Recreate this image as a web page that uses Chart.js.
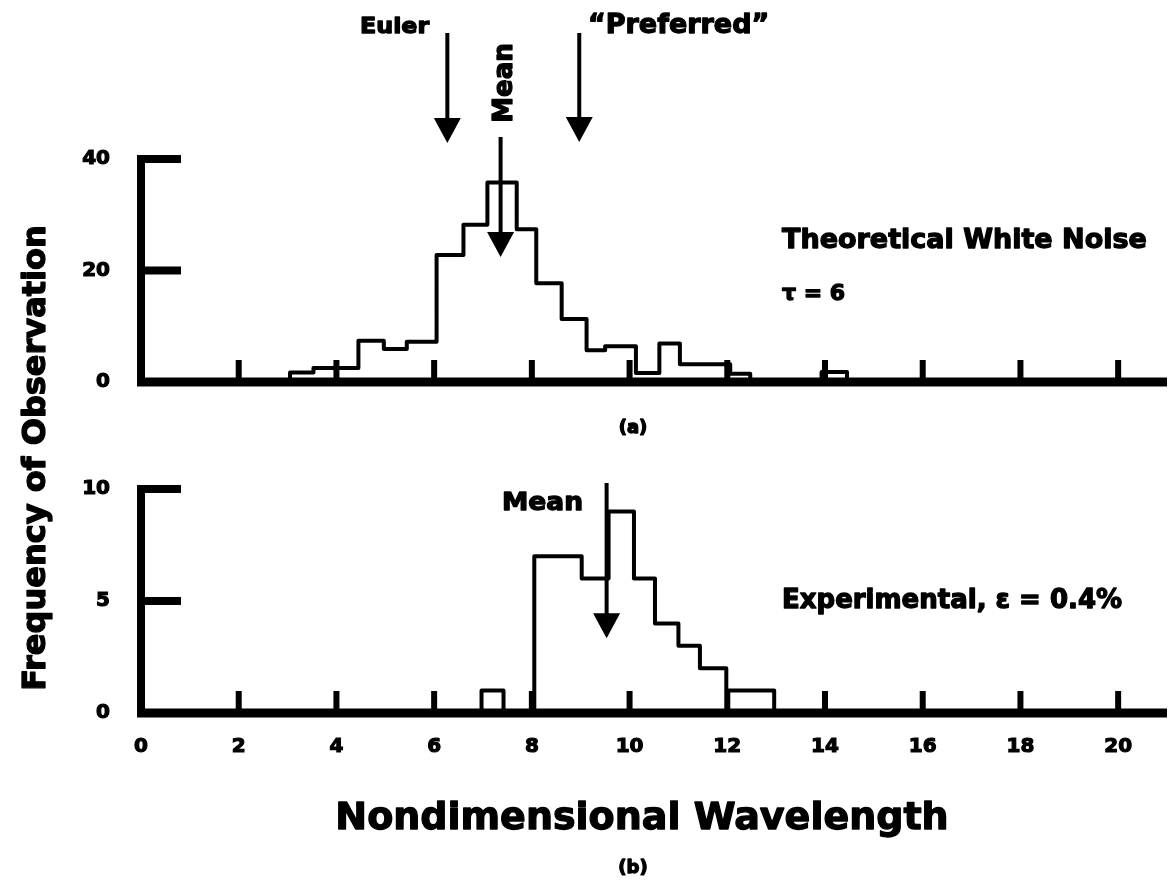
<!DOCTYPE html>
<html>
<head>
<meta charset="utf-8">
<script src="https://cdn.jsdelivr.net/npm/chart.js@4.4.1/dist/chart.umd.min.js"></script>
<style>
  html, body { margin: 0; padding: 0; background: #fff; }
  #wrap { position: relative; width: 1170px; height: 883px; }
  #wrap canvas { position: absolute; left: 0; top: 0; }
</style>
</head>
<body>
<div id="wrap">
  <canvas id="noiseChart" width="1170" height="883"></canvas>
  <canvas id="expChart" width="1170" height="883"></canvas>
</div>
<script>
// (a) theoretical white noise: histogram bin edges and counts
const noiseEdges = [3.05, 3.53, 4.45, 4.97, 5.44, 6.05, 6.6, 7.09, 7.69, 8.09, 8.61, 9.12, 9.5, 10.13, 10.61, 11.03, 12.06, 12.47, 13.93, 14.45];
const noiseCounts = [1.7, 2.5, 7.4, 5.9, 7.2, 22.8, 28.2, 35.8, 27.4, 17.7, 11.3, 5.7, 6.4, 1.6, 6.9, 3.2, 1.5, 0, 1.8];

// (b) experimental, eps = 0.4%
const expEdges = [6.97, 7.42, 8.05, 9.02, 9.57, 10.09, 10.52, 11.0, 11.44, 11.98, 12.96];
const expCounts = [1, 0, 7, 6, 9, 6, 4, 3, 2, 1];

const xTicks = [0, 2, 4, 6, 8, 10, 12, 14, 16, 18, 20];
const noiseYTicks = [0, 20, 40];
const expYTicks = [0, 5, 10];

// wavelengths marked with arrows
const eulerWavelength = 6.27;
const preferredWavelength = 8.97;
const noiseMean = 7.36;
const expMean = 9.53;

Chart.defaults.font.family = '"DejaVu Sans"';
Chart.defaults.font.weight = 'bold';
Chart.defaults.color = '#000';

// histogram outline as a stepped line: up at the first edge, down at the last
function outline(edges, counts) {
    const pts = [{ x: edges[0], y: 0 }];
    counts.forEach((c, i) => pts.push({ x: edges[i], y: c }));
    pts.push({ x: edges[edges.length - 1], y: 0 });
    return pts;
}

// heavy lettering: bold fill plus a thin outline
function drawText(ctx, text, x, y, size, opts = {}) {
    ctx.save();
    ctx.translate(x, y);
    if (opts.rotate) ctx.rotate(opts.rotate);
    ctx.scale(opts.stretch || 1, 1);
    ctx.font = `bold ${size}px "DejaVu Sans"`;
    ctx.textAlign = opts.align || 'left';
    ctx.textBaseline = opts.baseline || 'alphabetic';
    ctx.fillStyle = '#000';
    ctx.strokeStyle = '#000';
    ctx.lineWidth = 1.3;
    ctx.lineJoin = 'round';
    ctx.fillText(text, 0, 0);
    ctx.strokeText(text, 0, 0);
    ctx.restore();
}

function drawArrow(ctx, x, yFrom, yTo) {
    const headW = 27, headH = 25;
    ctx.save();
    ctx.strokeStyle = '#000';
    ctx.fillStyle = '#000';
    ctx.lineWidth = 4;
    ctx.beginPath();
    ctx.moveTo(x, yFrom);
    ctx.lineTo(x, yTo - headH + 2);
    ctx.stroke();
    ctx.beginPath();
    ctx.moveTo(x - headW / 2, yTo - headH);
    ctx.lineTo(x + headW / 2, yTo - headH);
    ctx.lineTo(x, yTo);
    ctx.closePath();
    ctx.fill();
    ctx.restore();
}

// heavy axis frame with inward ticks, drawn over the histogram
const frame = {
    id: 'frame',
    afterDatasetsDraw(chart, args, opts) {
        const ctx = chart.ctx;
        const xs = chart.scales.x, ys = chart.scales.y;
        const x0 = xs.getPixelForValue(0);
        const y0 = ys.getPixelForValue(0);
        const yTop = ys.getPixelForValue(ys.max);
        ctx.save();
        ctx.strokeStyle = '#000';
        ctx.lineCap = 'butt';

        ctx.lineWidth = 6;
        xTicks.slice(1).forEach(v => {
            const px = xs.getPixelForValue(v);
            ctx.beginPath();
            ctx.moveTo(px, y0);
            ctx.lineTo(px, y0 - 22);
            ctx.stroke();
        });

        ctx.lineWidth = 8;
        opts.yTicks.slice(1).forEach(v => {
            const py = ys.getPixelForValue(v);
            ctx.beginPath();
            ctx.moveTo(x0, py);
            ctx.lineTo(x0 + 40, py);
            ctx.stroke();
        });

        ctx.beginPath();
        ctx.moveTo(x0, yTop - 4);
        ctx.lineTo(x0, y0 + 4);
        ctx.stroke();

        ctx.lineWidth = 9;
        ctx.beginPath();
        ctx.moveTo(x0 - 4, y0);
        ctx.lineTo(chart.chartArea.right, y0);
        ctx.stroke();
        ctx.restore();

        if (opts.decorate) opts.decorate(ctx, xs, ys);
    }
};

const tickFont = { size: 20, weight: 'bold' };

function makeChart(id, edges, counts, yMax, yTicks, area, showXLabels, decorate) {
    return new Chart(document.getElementById(id), {
        type: 'line',
        data: {
            datasets: [{
                data: outline(edges, counts),
                stepped: 'before',
                borderColor: '#000',
                borderWidth: 4,
                borderJoinStyle: 'round',
                pointRadius: 0,
                fill: false
            }]
        },
        options: {
            responsive: false,
            animation: false,
            events: [],
            layout: {
                padding: { left: area.left - 100, right: 1170 - area.right, top: area.top, bottom: 883 - area.bottom - 70 }
            },
            scales: {
                x: {
                    type: 'linear',
                    min: 0,
                    max: 21,
                    afterBuildTicks: axis => { axis.ticks = xTicks.map(v => ({ value: v })); },
                    afterFit: axis => { axis.height = 70; },
                    grid: { display: false },
                    border: { display: false },
                    ticks: {
                        display: showXLabels, padding: 14, maxRotation: 0, font: tickFont,
                        textStrokeColor: '#000', textStrokeWidth: 1.2
                    }
                },
                y: {
                    min: 0,
                    max: yMax,
                    afterBuildTicks: axis => { axis.ticks = yTicks.map(v => ({ value: v })); },
                    afterFit: axis => { axis.width = 100; },
                    grid: { display: false },
                    border: { display: false },
                    ticks: {
                        padding: 23, font: tickFont,
                        textStrokeColor: '#000', textStrokeWidth: 1.2
                    }
                }
            },
            plugins: {
                legend: { display: false },
                tooltip: { enabled: false },
                frame: { yTicks, decorate }
            }
        },
        plugins: [frame]
    });
}

makeChart('noiseChart', noiseEdges, noiseCounts, 40, noiseYTicks,
    { left: 141, right: 1167, top: 159, bottom: 382 }, false,
    (ctx, xs, ys) => {
        drawArrow(ctx, xs.getPixelForValue(eulerWavelength), 33, 143);
        drawArrow(ctx, xs.getPixelForValue(preferredWavelength), 33, 142);
        drawArrow(ctx, xs.getPixelForValue(noiseMean), 137, ys.getPixelForValue(22.4));
        drawText(ctx, 'Euler', 360, 33, 22, { stretch: 1.08 });
        drawText(ctx, '\u201CPreferred\u201D', 588, 33, 27);
        drawText(ctx, 'Mean', xs.getPixelForValue(noiseMean) + 5, 83, 26, { rotate: -Math.PI / 2, align: 'center', baseline: 'middle' });
        drawText(ctx, 'Theoretical White Noise', 782, 248, 27);
        drawText(ctx, '\u03C4 = 6', 782, 300, 22);
        drawText(ctx, '(a)', 633, 428, 18, { align: 'center', baseline: 'middle' });
    });

makeChart('expChart', expEdges, expCounts, 10, expYTicks,
    { left: 141, right: 1167, top: 489, bottom: 713 }, true,
    (ctx, xs, ys) => {
        drawArrow(ctx, xs.getPixelForValue(expMean), 483, ys.getPixelForValue(3.34));
        drawText(ctx, 'Mean', 502, 503, 25, { baseline: 'middle', stretch: 1.06 });
        drawText(ctx, 'Experimental, \u03B5 = 0.4%', 782, 608, 26);
        drawText(ctx, 'Frequency of Observation', 37, 458, 32, { rotate: -Math.PI / 2, align: 'center', baseline: 'middle' });
        drawText(ctx, 'Nondimensional Wavelength', 642, 829, 38, { align: 'center' });
        drawText(ctx, '(b)', 633, 868, 18, { align: 'center', baseline: 'middle' });
    });
</script>
</body>
</html>
